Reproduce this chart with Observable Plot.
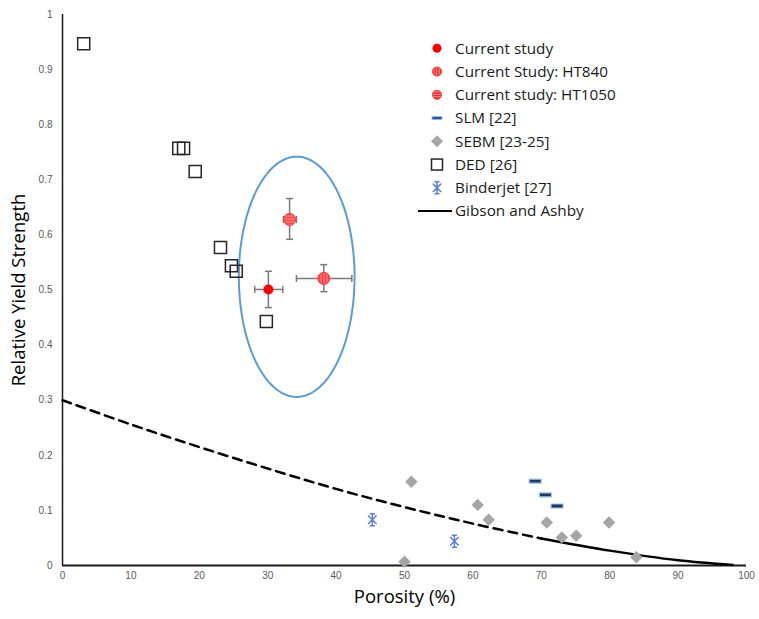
<!DOCTYPE html>
<html>
<head>
<meta charset="utf-8">
<script src="https://cdn.jsdelivr.net/npm/d3@7"></script>
<script src="https://cdn.jsdelivr.net/npm/@observablehq/plot@0.6"></script>
<style>
  body { margin: 0; background: #fff; }
  #wrap { position: relative; width: 759px; height: 619px; }
  #legend { position: absolute; left: 0; top: 0; pointer-events: none; }
</style>
</head>
<body>
<div id="wrap"></div>
<script>
// ---- axis ticks ----
const xTicks = [0, 10, 20, 30, 40, 50, 60, 70, 80, 90, 100];
const yTicks = [0, 0.1, 0.2, 0.3, 0.4, 0.5, 0.6, 0.7, 0.8, 0.9, 1];
const yTickLabels = ["0", "0.1", "0.2", "0.3", "0.4", "0.5", "0.6", "0.7", "0.8", "0.9", "1"];

// ---- current study (with error bars) ----
const studyLabels = ["Current study", "Current Study: HT840", "Current study: HT1050"];
const studyPorosity = [30.1, 38.2, 33.2];
const studyStrength = [0.501, 0.521, 0.628];
const studyPorosityLo = [28.1, 34.2, 32.3];
const studyPorosityHi = [32.2, 42.3, 34.2];
const studyStrengthLo = [0.468, 0.497, 0.592];
const studyStrengthHi = [0.534, 0.546, 0.666];

// ---- SLM [22] ----
const slmPorosity = [69.1, 70.6, 72.3];
const slmStrength = [0.153, 0.128, 0.108];

// ---- SEBM [23-25] ----
const sebmPorosity = [51.0, 50.0, 60.7, 62.3, 70.8, 73.0, 75.1, 79.9, 83.9];
const sebmStrength = [0.152, 0.007, 0.110, 0.083, 0.078, 0.051, 0.054, 0.078, 0.015];

// ---- DED [26] ----
const dedPorosity = [3.1, 17.0, 17.7, 19.4, 23.1, 24.7, 25.4, 29.8];
const dedStrength = [0.947, 0.757, 0.757, 0.715, 0.577, 0.544, 0.534, 0.443];

// ---- Binderjet [27] ----
const bjPorosity = [45.3, 57.3];
const bjStrength = [0.083, 0.044];

// ---- Gibson and Ashby ----
const gaPorosity = [0, 10, 20, 30, 40, 50, 60, 70, 80, 90, 98];
const gaStrength = [0.300, 0.256, 0.215, 0.176, 0.139, 0.106, 0.076, 0.049, 0.027, 0.0095, 0.001];
const gaDashedUntil = 70;

// ---- highlight ellipse ----
const ellipseCenter = [34.24, 0.524];
const ellipseRadii = [8.46, 0.218];

// ---- build tables ----
const study = studyLabels.map((s, i) => ({
  s, x: studyPorosity[i], y: studyStrength[i],
  x1: studyPorosityLo[i], x2: studyPorosityHi[i],
  y1: studyStrengthLo[i], y2: studyStrengthHi[i]
}));
const slm = slmPorosity.map((x, i) => ({x, y: slmStrength[i]}));
const sebm = sebmPorosity.map((x, i) => ({x, y: sebmStrength[i]}));
const ded = dedPorosity.map((x, i) => ({x, y: dedStrength[i]}));
const bj = bjPorosity.map((x, i) => ({x, y: bjStrength[i]}));
const ga = gaPorosity.map((x, i) => ({x, y: gaStrength[i]}));
const gaDashed = ga.filter(d => d.x <= gaDashedUntil);
const gaSolid = ga.filter(d => d.x >= gaDashedUntil);
const ellipse = d3.range(0, 361, 3).map(a => ({
  x: ellipseCenter[0] + ellipseRadii[0] * Math.cos(a * Math.PI / 180),
  y: ellipseCenter[1] + ellipseRadii[1] * Math.sin(a * Math.PI / 180)
}));

// ---- custom symbols ----
const dashSymbol = {draw(ctx) { ctx.rect(-6, -2, 12, 4); }};
const capV = {draw(ctx) { ctx.moveTo(0, -3.5); ctx.lineTo(0, 3.5); }};
const capH = {draw(ctx) { ctx.moveTo(-3.5, 0); ctx.lineTo(3.5, 0); }};
const starSymbol = {draw(ctx) {
  const r = 6, d = 4.2;
  ctx.moveTo(0, -r); ctx.lineTo(0, r);
  ctx.moveTo(-d, -d); ctx.lineTo(d, d);
  ctx.moveTo(-d, d); ctx.lineTo(d, -d);
  ctx.moveTo(-2.5, -r); ctx.lineTo(2.5, -r);
  ctx.moveTo(-2.5, r); ctx.lineTo(2.5, r);
}};

const errColor = "#7a7a7a";
const font = "Liberation Sans, Arial, sans-serif";
const titleFont = "Open Sans, sans-serif";

const chart = Plot.plot({
  width: 759,
  height: 619,
  marginLeft: 62,
  marginRight: 13,
  marginTop: 14,
  marginBottom: 54,
  style: {fontFamily: font, fontSize: "10px", color: "#595959", background: "white"},
  x: {domain: [0, 100], ticks: xTicks, tickSize: 0, tickPadding: 6, label: null},
  y: {domain: [0, 1], ticks: yTicks, tickSize: 0, tickPadding: 10, label: null,
      tickFormat: d => yTickLabels[yTicks.findIndex(t => Math.abs(t - d) < 1e-9)]},
  marks: [
    Plot.ruleX([0], {stroke: "#1a1a1a", strokeWidth: 1.5}),
    Plot.ruleY([0], {stroke: "#1a1a1a", strokeWidth: 2}),
    Plot.line(ellipse, {x: "x", y: "y", stroke: "#5b9bd5", strokeWidth: 2, curve: "linear-closed"}),
    Plot.line(gaDashed, {x: "x", y: "y", stroke: "black", strokeWidth: 2.5, strokeDasharray: "9,6", curve: "catmull-rom"}),
    Plot.line(gaSolid, {x: "x", y: "y", stroke: "black", strokeWidth: 2.5, curve: "catmull-rom"}),
    // error bars
    Plot.link(study, {x1: "x1", x2: "x2", y1: "y", y2: "y", stroke: errColor, strokeWidth: 1.5}),
    Plot.link(study, {x1: "x", x2: "x", y1: "y1", y2: "y2", stroke: errColor, strokeWidth: 1.5}),
    Plot.dot(study, {x: "x1", y: "y", symbol: capV, stroke: errColor, strokeWidth: 1.5}),
    Plot.dot(study, {x: "x2", y: "y", symbol: capV, stroke: errColor, strokeWidth: 1.5}),
    Plot.dot(study, {x: "x", y: "y1", symbol: capH, stroke: errColor, strokeWidth: 1.5}),
    Plot.dot(study, {x: "x", y: "y2", symbol: capH, stroke: errColor, strokeWidth: 1.5}),
    // points
    Plot.dot(ded, {x: "x", y: "y", symbol: "square", r: 6.8, fill: "none", stroke: "#262626", strokeWidth: 1.5}),
    Plot.dot(sebm, {x: "x", y: "y", symbol: "diamond2", r: 5.6, fill: "#a5a5a5", stroke: "none"}),
    Plot.dot(slm, {x: "x", y: "y", symbol: dashSymbol, fill: "#1f3864", stroke: "#9dc3e6", strokeWidth: 1.2}),
    Plot.dot(bj, {x: "x", y: "y", symbol: starSymbol, stroke: "#5b7fd6", strokeWidth: 1.5}),
    Plot.dot(study.filter(d => d.s === studyLabels[0]), {x: "x", y: "y", r: 5, fill: "#ff0000", stroke: "none"}),
    Plot.dot(study.filter(d => d.s === studyLabels[1]), {x: "x", y: "y", r: 6, fill: "url(#vstripes)", stroke: "#ff3030", strokeWidth: 1}),
    Plot.dot(study.filter(d => d.s === studyLabels[2]), {x: "x", y: "y", r: 6, fill: "url(#hstripes)", stroke: "#ff3030", strokeWidth: 1}),
    // axis titles
    Plot.text(["Relative Yield Strength"], {frameAnchor: "left", textAnchor: "middle", dx: -43, rotate: -90, fontSize: 18.5, fill: "black", fontFamily: titleFont}),
    Plot.text(["Porosity (%)"], {frameAnchor: "bottom", textAnchor: "middle", dy: 37, fontSize: 18.5, fill: "black", fontFamily: titleFont})
  ]
});

// stripe patterns
const defs = d3.select(chart).insert("defs", ":first-child");
const pv = defs.append("pattern").attr("id", "vstripes").attr("patternUnits", "userSpaceOnUse").attr("width", 3).attr("height", 3);
pv.append("rect").attr("width", 3).attr("height", 3).attr("fill", "#ff4040");
pv.append("rect").attr("x", 2).attr("width", 1).attr("height", 3).attr("fill", "#ff9090");
const ph = defs.append("pattern").attr("id", "hstripes").attr("patternUnits", "userSpaceOnUse").attr("width", 3).attr("height", 3);
ph.append("rect").attr("width", 3).attr("height", 3).attr("fill", "#ff4848");
ph.append("rect").attr("y", 2).attr("width", 3).attr("height", 1).attr("fill", "#ff9a9a");

const wrap = document.getElementById("wrap");
wrap.appendChild(chart);

// ---- legend overlay ----
const legendItems = ["Current study", "Current Study: HT840", "Current study: HT1050", "SLM [22]", "SEBM [23-25]", "DED [26]", "Binderjet [27]", "Gibson and Ashby"];
const leg = d3.select(wrap).append("svg").attr("id", "legend").attr("width", 759).attr("height", 619);
const lx = 437, ltx = 455, ly0 = 48.3, ldy = 23.25;
leg.selectAll("text").data(legendItems).join("text")
  .attr("x", ltx).attr("y", (d, i) => ly0 + i * ldy)
  .attr("dy", "0.35em")
  .attr("font-family", "Open Sans, sans-serif").attr("font-size", 15.3)
  .attr("fill", "#1a1a1a")
  .text(d => d);
const sym = (i) => leg.append("g").attr("transform", `translate(${lx},${ly0 + i * ldy})`);
sym(0).append("circle").attr("r", 4.5).attr("fill", "#ff0000");
sym(1).append("circle").attr("r", 4.5).attr("fill", "url(#lvstripes)").attr("stroke", "#ff3030");
sym(2).append("circle").attr("r", 4.5).attr("fill", "url(#lhstripes)").attr("stroke", "#ff3030");
sym(3).append("rect").attr("x", -5).attr("y", -1.6).attr("width", 10).attr("height", 3.2).attr("fill", "#2f5597").attr("stroke", "#9dc3e6").attr("stroke-width", 0.8);
sym(4).append("path").attr("d", "M0,-6L6,0L0,6L-6,0Z").attr("fill", "#a5a5a5");
sym(5).append("rect").attr("x", -5.5).attr("y", -5.5).attr("width", 11).attr("height", 11).attr("fill", "none").attr("stroke", "#262626").attr("stroke-width", 1.5);
sym(6).append("path").attr("d", "M0,-6L0,6M-4.2,-4.2L4.2,4.2M-4.2,4.2L4.2,-4.2M-2.5,-6L2.5,-6M-2.5,6L2.5,6").attr("stroke", "#5b7fd6").attr("stroke-width", 1.5).attr("fill", "none");
leg.append("line").attr("x1", 418).attr("x2", 452).attr("y1", ly0 + 7 * ldy).attr("y2", ly0 + 7 * ldy).attr("stroke", "black").attr("stroke-width", 2);
const ldefs = leg.insert("defs", ":first-child");
const lpv = ldefs.append("pattern").attr("id", "lvstripes").attr("patternUnits", "userSpaceOnUse").attr("width", 2.5).attr("height", 2.5);
lpv.append("rect").attr("width", 2.5).attr("height", 2.5).attr("fill", "#ff2020");
lpv.append("rect").attr("x", 1.6).attr("width", 0.9).attr("height", 2.5).attr("fill", "#ffb0b0");
const lph = ldefs.append("pattern").attr("id", "lhstripes").attr("patternUnits", "userSpaceOnUse").attr("width", 2.5).attr("height", 2.5);
lph.append("rect").attr("width", 2.5).attr("height", 2.5).attr("fill", "#ff2020");
lph.append("rect").attr("y", 1.6).attr("width", 2.5).attr("height", 0.9).attr("fill", "#ffb0b0");
</script>
</body>
</html>
